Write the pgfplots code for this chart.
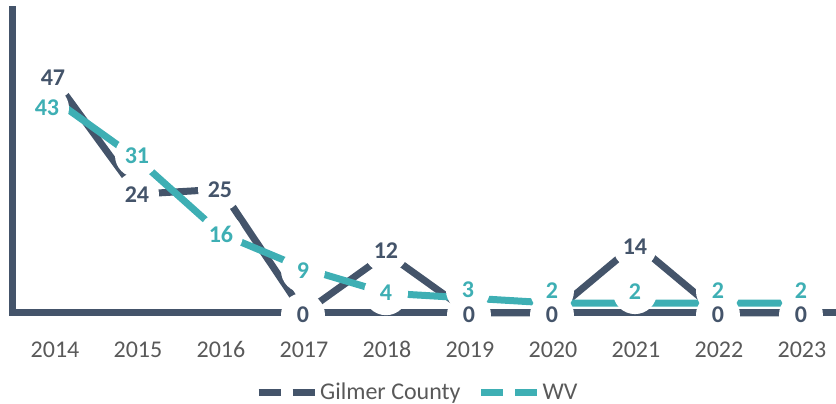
\documentclass[border=0pt]{standalone}
\usepackage{pgfplots}
\pgfplotsset{compat=1.18}
\usepackage{pgfplotstable}
\usepackage{fontspec}
\setmainfont{Carlito}
\definecolor{gilmer}{RGB}{68,84,106}
\definecolor{wv}{RGB}{62,175,180}
\definecolor{txtgray}{RGB}{89,89,89}

\pgfplotstableread{
x y dx dy
0 47 -2 3
1 24 -1 0
2 25 -1 0
3 0 -1 -2
4 12 -1 3
5 0 -1 -2
6 0 -1 -2
7 14 -1 -3
8 0 -1 -2
9 0 -1 -2
}\gilmertab
\pgfplotstableread{
x y dx dy
0 43 -8 -8
1 31 -1 4
2 16 0 -1
3 9 -1 -2
4 4 -1 0
5 3 -2 8
6 2 -1 12
7 2 -1 11
8 2 -1 12
9 2 -1 12
}\wvtab

\begin{document}
\begin{tikzpicture}
\begin{axis}[
  at={(12pt,91pt)}, anchor=south west,
  scale only axis, width=824pt, height=303pt,
  xmin=-0.518, xmax=9.41, ymin=0, ymax=61.2,
  set layers,
  clip=false,
  axis x line=bottom, axis y line=left,
  axis line style={-, line width=7pt, draw=gilmer, line cap=rect},
  xtick={0,...,9},
  xticklabels={2014,2015,2016,2017,2018,2019,2020,2021,2022,2023},
  major tick length=0pt,
  ytick=\empty,
  /pgf/number format/assume math mode=true,
  xticklabel style={font=\fontsize{24pt}{28pt}\selectfont, text=txtgray, anchor=base, yshift=-44.5pt},
  legend style={at={(0.492,-0.261)}, anchor=center, draw=none, fill=none,
    legend columns=2, font=\fontsize{24pt}{28pt}\selectfont, text=txtgray,
    /tikz/every even column/.append style={column sep=15pt}},
  legend image code/.code={\draw[#1, line width=7pt, dash pattern=on 22pt off 12pt] (0pt,0pt) -- (56pt,0pt);},
]
\addplot[gilmer, line width=7pt, mark=none] table[x=x,y=y] {\gilmertab};
\addlegendentry{Gilmer County}
\addplot[wv, line width=7pt, mark=none] table[x=x,y=y] {\wvtab};
\addlegendentry{WV}
% white label backgrounds
\addplot[forget plot, draw=none, mark=none,
  visualization depends on={\thisrow{dx} \as \labdx},
  visualization depends on={\thisrow{dy} \as \labdy},
  nodes near coords={},
  nodes near coords style={anchor=center, circle, fill=white, minimum size=44pt, inner sep=0pt, xshift=\labdx pt, yshift=\labdy pt}]
  table[x=x,y=y] {\gilmertab};
\addplot[forget plot, draw=none, mark=none,
  visualization depends on={\thisrow{dx} \as \labdx},
  visualization depends on={\thisrow{dy} \as \labdy},
  nodes near coords={},
  nodes near coords style={anchor=center, circle, fill=white, minimum size=44pt, inner sep=0pt, xshift=\labdx pt, yshift=\labdy pt}]
  table[x=x,y=y] {\wvtab};
% label texts
\addplot[forget plot, draw=none, mark=none,
  visualization depends on={\thisrow{dx} \as \labdx},
  visualization depends on={\thisrow{dy} \as \labdy},
  nodes near coords,
  nodes near coords style={anchor=center, inner sep=0pt, text=gilmer, font=\fontsize{24pt}{28pt}\selectfont\bfseries, xshift=\labdx pt, yshift=\labdy pt}]
  table[x=x,y=y] {\gilmertab};
\addplot[forget plot, draw=none, mark=none,
  visualization depends on={\thisrow{dx} \as \labdx},
  visualization depends on={\thisrow{dy} \as \labdy},
  nodes near coords,
  nodes near coords style={anchor=center, inner sep=0pt, text=wv, font=\fontsize{24pt}{28pt}\selectfont\bfseries, xshift=\labdx pt, yshift=\labdy pt}]
  table[x=x,y=y] {\wvtab};
\end{axis}
\pgfresetboundingbox
\path (0,0) rectangle (836pt,404pt);
\end{tikzpicture}
\end{document}
